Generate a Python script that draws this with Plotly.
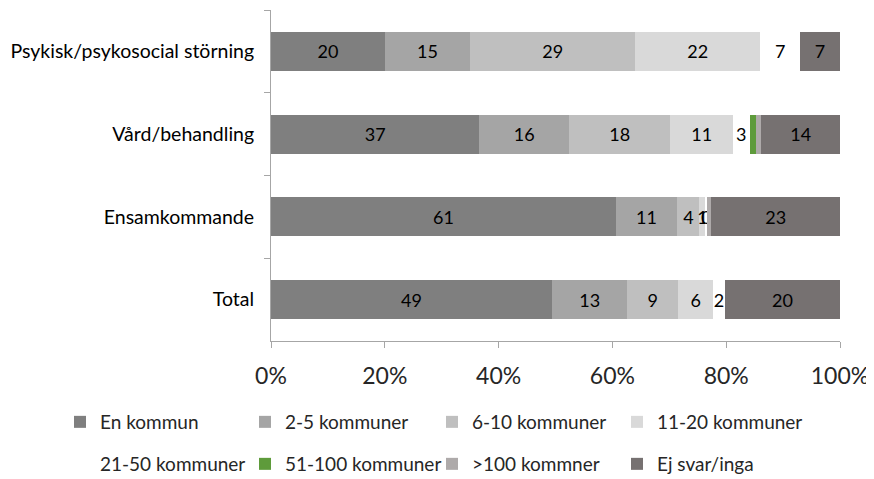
import plotly.graph_objects as go

categories = ["Psykisk/psykosocial störning", "Vård/behandling", "Ensamkommande", "Total"]

series_names = ["En kommun", "2-5 kommuner", "6-10 kommuner", "11-20 kommuner",
                "21-50 kommuner", "51-100 kommuner", ">100 kommner", "Ej svar/inga"]

en_kommun = [20.0, 36.6, 60.6, 49.4]
k2_5 = [15.0, 15.8, 10.8, 13.2]
k6_10 = [29.0, 17.8, 3.9, 9.0]
k11_20 = [22.0, 11.0, 1.1, 6.1]
k21_50 = [7.0, 2.9, 0.3, 2.1]
k51_100 = [0.0, 1.1, 0.0, 0.0]
k100 = [0.0, 1.0, 0.7, 0.0]
ej_svar = [7.0, 13.8, 22.6, 20.2]

x_ticks = [0, 20, 40, 60, 80, 100]
x_tick_labels = ["0%", "20%", "40%", "60%", "80%", "100%"]

values = [en_kommun, k2_5, k6_10, k11_20, k21_50, k51_100, k100, ej_svar]
colors = ["#7f7f7f", "#a5a5a5", "#bfbfbf", "#d9d9d9", "#ffffff", "#5e9b3b", "#aeaaaa", "#767171"]
show_labels = [True, True, True, True, True, False, False, True]

FONT = "Lato"
# page renders the figure with an 8px body offset
OFF = 8
W, H = 874 - OFF, 479 - OFF

# legend text start positions (absolute px) and row centres
leg_text_x = [101, 286, 473, 658, 101, 286, 473, 658]
leg_row_y = [422, 422, 422, 422, 464, 464, 464, 464]

fig = go.Figure()
for i, (name, vals, col, lab) in enumerate(zip(series_names, values, colors, show_labels)):
    fig.add_trace(go.Bar(
        y=categories, x=vals, name=name, orientation="h",
        marker=dict(color=col, line=dict(width=0)),
        text=[str(round(v)) for v in vals] if lab else None,
        textposition="inside" if lab else "none",
        insidetextanchor="middle",
        textangle=0,
        textfont=dict(family=FONT, size=18, color="#000000"),
        hoverinfo="skip",
        showlegend=True,
        legend="legend" if i == 0 else f"legend{i+1}",
    ))

axis_col = "#a6a6a6"
layout = dict(
    barmode="stack",
    bargap=0.53,
    showlegend=True,
    width=W, height=H,
    margin=dict(l=271 - OFF, r=874 - 840, t=10 - OFF, b=479 - 341),
    paper_bgcolor="white", plot_bgcolor="white",
    font=dict(family=FONT, color="#262626"),
    uniformtext=dict(mode="show", minsize=18),
    xaxis=dict(range=[0, 100], tickvals=x_ticks, ticktext=x_tick_labels,
               showgrid=False, zeroline=False, showline=True, linecolor=axis_col,
               linewidth=1, ticks="outside", ticklen=6, tickcolor=axis_col,
               ticklabelstandoff=8, automargin=False,
               tickfont=dict(family=FONT, size=23, color="#262626"), fixedrange=True),
    yaxis=dict(categoryorder="array", categoryarray=categories, autorange="reversed",
               showgrid=False, zeroline=False, showline=True, linecolor=axis_col,
               linewidth=1, ticks="outside", ticklen=6, tickcolor=axis_col,
               tickson="boundaries", ticklabelstandoff=12, automargin=False,
               tickfont=dict(family=FONT, size=19.5, color="#000000"), fixedrange=True),
)
for i in range(8):
    key = "legend" if i == 0 else f"legend{i+1}"
    layout[key] = dict(
        orientation="h", xref="container", yref="container",
        x=(leg_text_x[i] - OFF - 41) / W, y=1 - (leg_row_y[i] - OFF) / H,
        xanchor="left", yanchor="middle",
        font=dict(family=FONT, size=19, color="#262626"),
        bgcolor="rgba(0,0,0,0)", borderwidth=0,
        itemclick=False, itemdoubleclick=False, visible=True,
    )
fig.update_layout(**layout)

fig.write_html("out.html")
